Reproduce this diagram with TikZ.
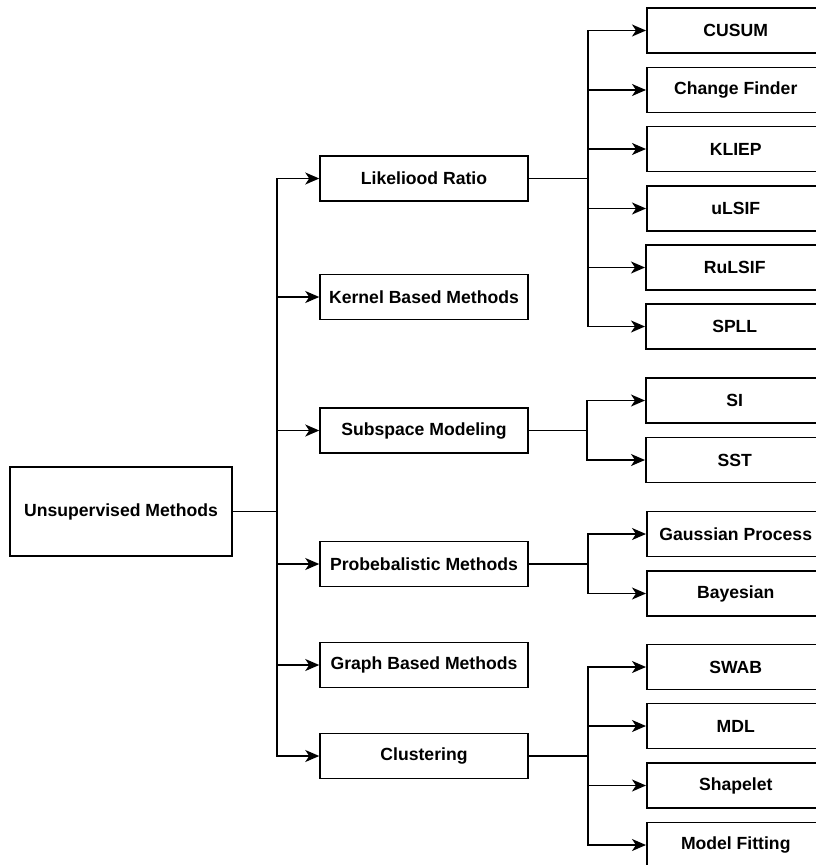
\documentclass[tikz,border=0pt]{standalone}
\usepackage{fontspec}
\setmainfont{Liberation Sans}
\usetikzlibrary{arrows.meta}

\begin{document}
\begin{tikzpicture}[x=1pt,y=-1pt,
  box/.style={draw, line width=1.5pt, inner sep=0pt,
    font=\bfseries\fontsize{17.6}{20}\selectfont},
  rootbox/.style={box, minimum width=222pt, minimum height=89pt},
  midbox/.style={box, minimum width=208pt, minimum height=45pt},
  leafbox/.style={box, minimum width=178pt, minimum height=45pt, anchor=west},
  link/.style={line width=1.5pt, -{Stealth[length=14pt,width=12pt,inset=4pt]}}]
\useasboundingbox (0,0) rectangle (816,865);

% root
\node[rootbox] (root) at (121,511.5) {Unsupervised Methods};

% second level
\node[midbox] (lr)   at (424,178.5) {Likeliood Ratio};
\node[midbox] (kern) at (424,297)   {Kernel Based Methods};
\node[midbox] (sub)  at (424,430.5) {Subspace Modeling};
\node[midbox] (prob) at (424,564)   {Probebalistic Methods};
\node[midbox] (graph) at (424,665)  {Graph Based Methods};
\node[midbox] (clus) at (424,756)   {Clustering};

% leaves
\node[leafbox] (cusum) at (646,30.5)  {CUSUM};
\node[leafbox] (cf)    at (646,90)    {Change Finder};
\node[leafbox] (kliep) at (646,149)   {KLIEP};
\node[leafbox] (ulsif) at (646,208.5) {uLSIF};
\node[leafbox] (rulsif) at (645,267.5) {RuLSIF};
\node[leafbox] (spll)  at (645,326.5) {SPLL};
\node[leafbox] (si)    at (645,400.5) {SI};
\node[leafbox] (sst)   at (645,460)   {SST};
\node[leafbox] (gp)    at (646,534)   {Gaussian Process};
\node[leafbox] (bay)   at (646,593.5) {Bayesian};
\node[leafbox] (swab)  at (646,667)   {SWAB};
\node[leafbox] (mdl)   at (646,726)   {MDL};
\node[leafbox] (shape) at (646,785.5) {Shapelet};
\node[leafbox] (fit)   at (646,845)   {Model Fitting};

% root to second level
\foreach \n in {lr,kern,sub,prob,graph,clus}
  \draw[link] (root.east) -- ++(44,0) |- (\n.west);

% second level to leaves
\foreach \n in {cusum,cf,kliep,ulsif,rulsif,spll}
  \draw[link] (lr.east) -- ++(59,0) |- (\n.west);
\foreach \n in {si,sst}
  \draw[link] (sub.east) -- ++(58,0) |- (\n.west);
\foreach \n in {gp,bay}
  \draw[link] (prob.east) -- ++(59,0) |- (\n.west);
\foreach \n in {swab,mdl,shape,fit}
  \draw[link] (clus.east) -- ++(59,0) |- (\n.west);

\end{tikzpicture}
\end{document}
